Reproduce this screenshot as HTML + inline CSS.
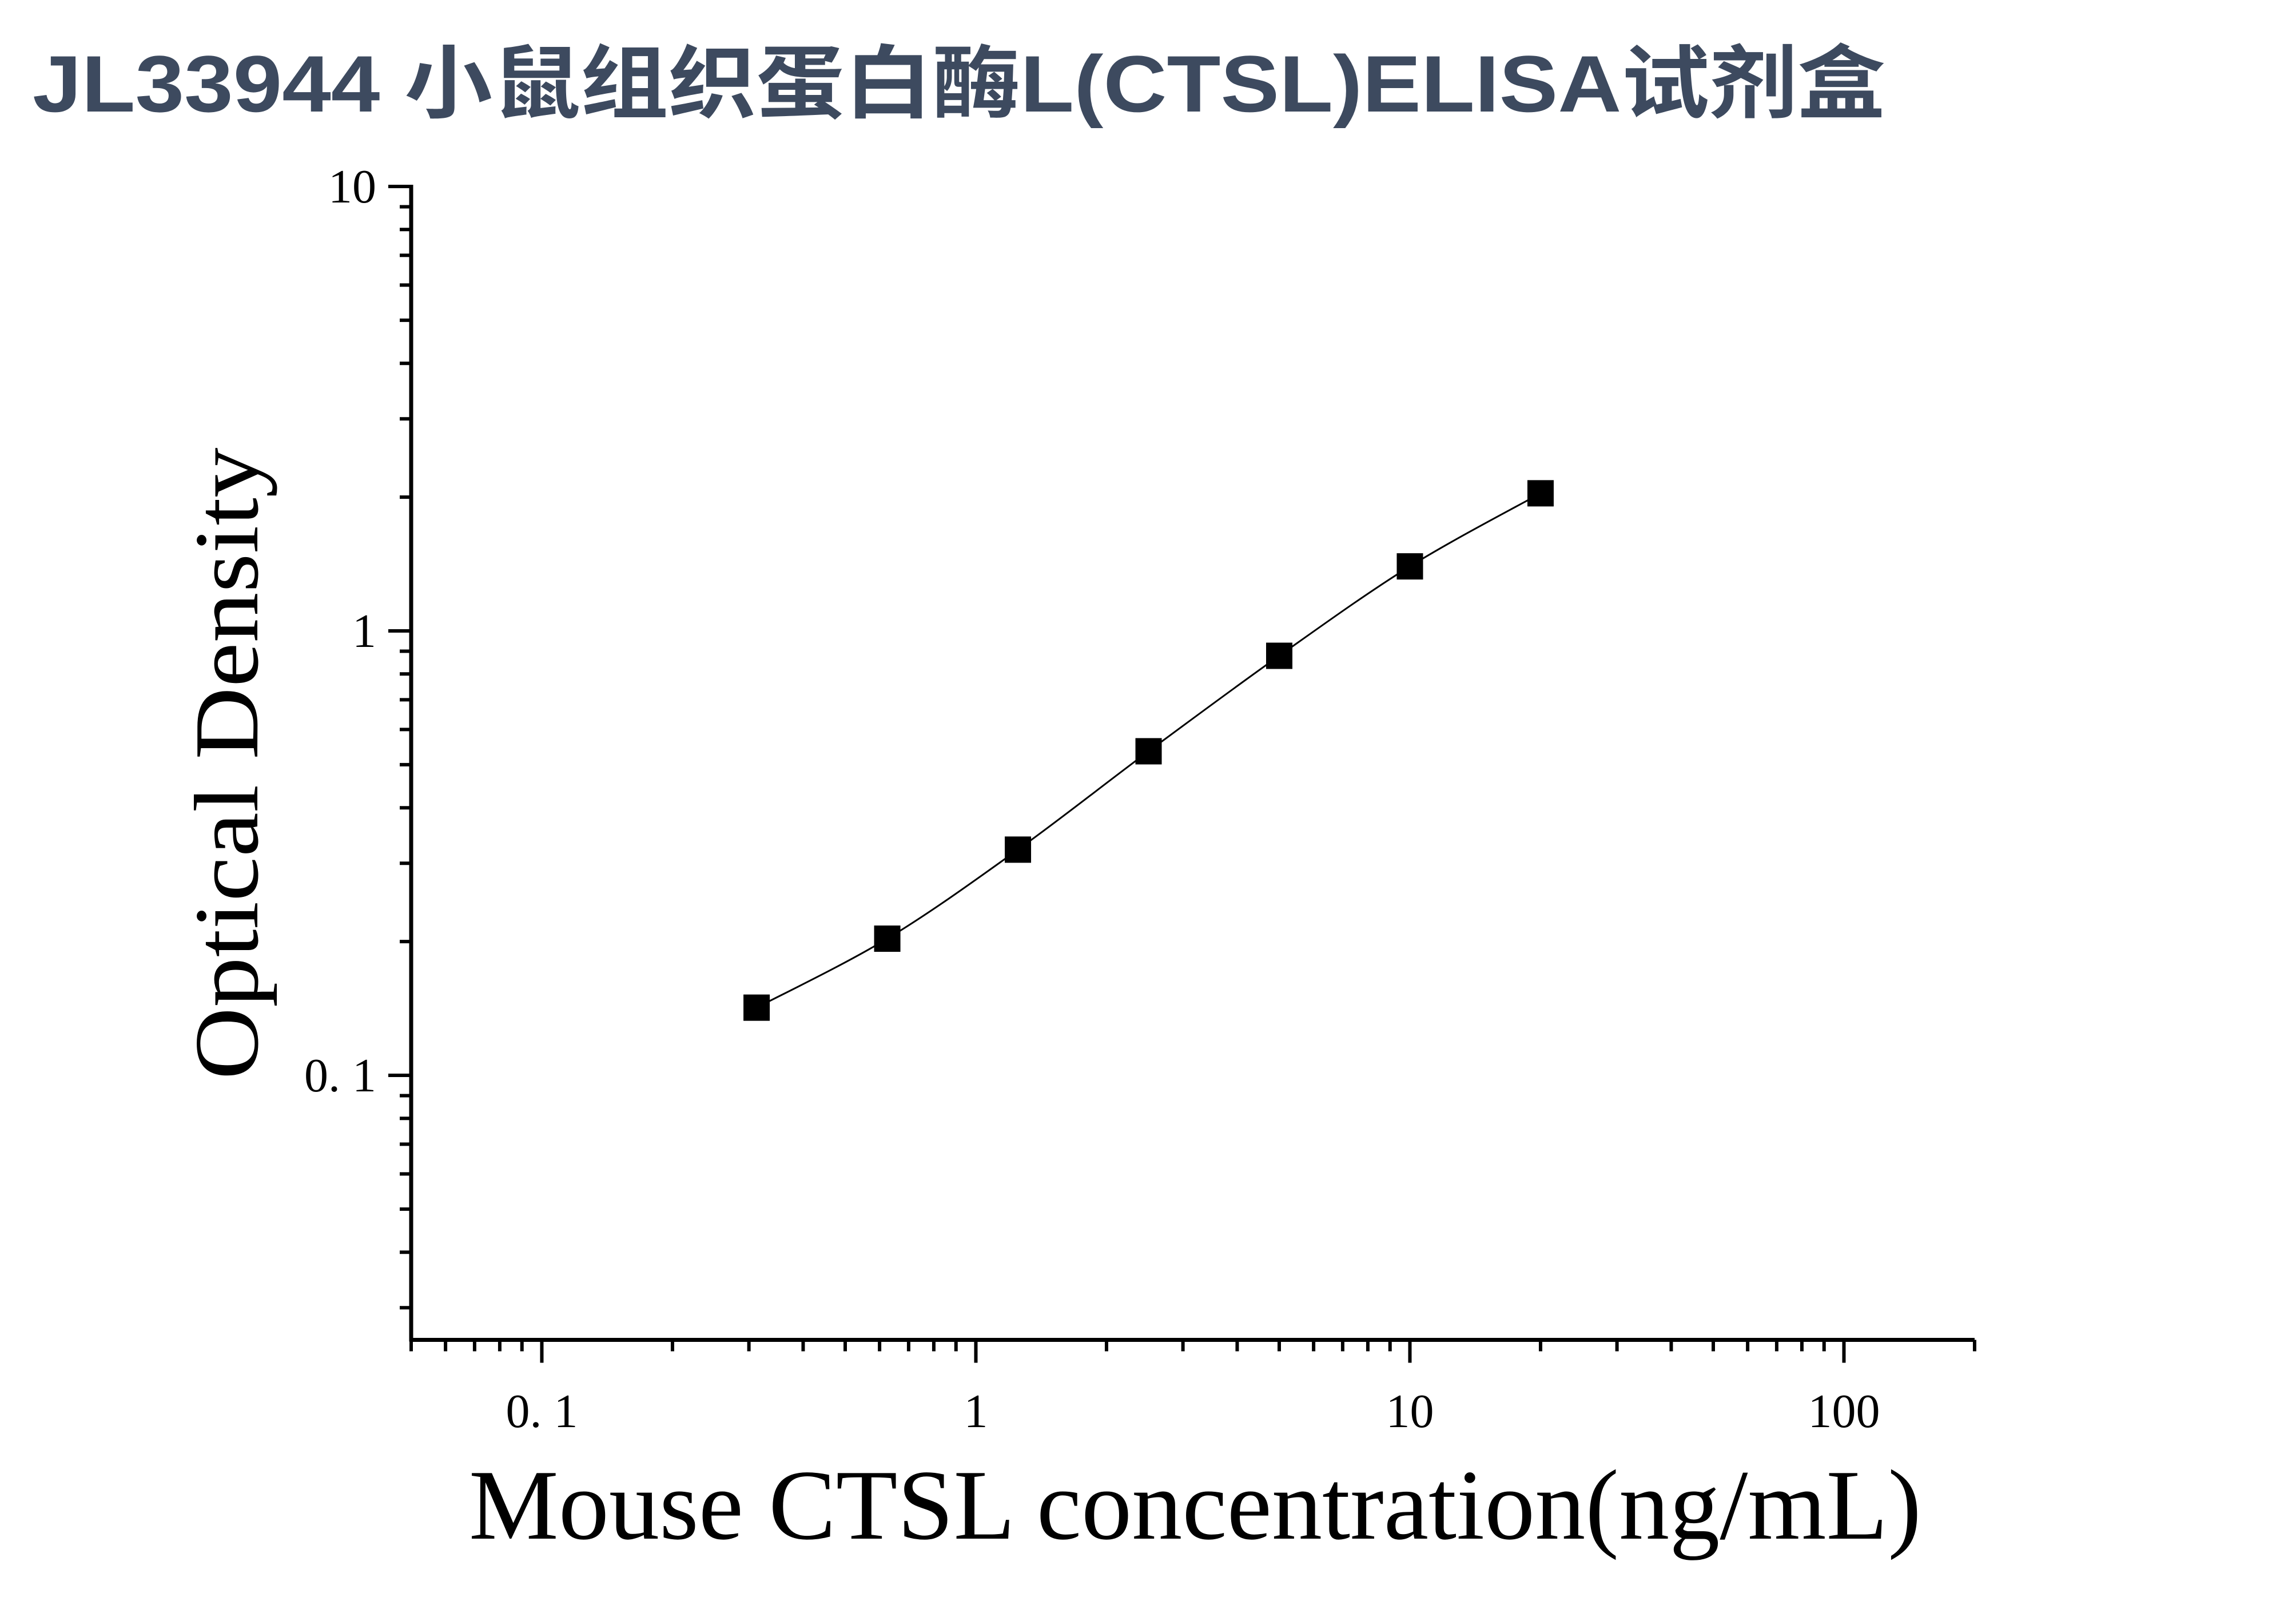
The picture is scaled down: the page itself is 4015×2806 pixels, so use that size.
<!DOCTYPE html>
<html><head><meta charset="utf-8"><style>
html,body{margin:0;padding:0;background:#fff;}
svg{display:block;}
</style></head><body>
<svg id="chart" width="4015" height="2806" viewBox="0 0 4015 2806" xmlns="http://www.w3.org/2000/svg">
<text x="57" y="195" font-family="'Liberation Sans','Noto Sans CJK SC',sans-serif" font-weight="bold" font-size="140" fill="#3d4a5f" textLength="3240" lengthAdjust="spacingAndGlyphs">JL33944 小鼠组织蛋白酶L(CTSL)ELISA试剂盒</text>
<g id="axes"></g>
<g id="marks"></g>
<text transform="translate(450,1335) rotate(-90)" text-anchor="middle" font-family="'Liberation Serif',serif" font-size="160" fill="#000" textLength="1105" lengthAdjust="spacingAndGlyphs">Optical Density</text>
<text x="2090" y="2690" text-anchor="middle" font-family="'Liberation Serif',serif" font-size="175" fill="#000" textLength="2540" lengthAdjust="spacingAndGlyphs">Mouse CTSL concentration(ng/mL)</text>
</svg>
<script>
const concentrations = [0.3125, 0.625, 1.25, 2.5, 5, 10, 20];
const odValues = [0.142, 0.203, 0.322, 0.536, 0.879, 1.397, 2.04];
const xTickValues = [0.1, 1, 10, 100];
const xTickLabels = ['0. 1', '1', '10', '100'];
const yTickValues = [0.1, 1, 10];
const yTickLabels = ['0. 1', '1', '10'];

const NS = 'http://www.w3.org/2000/svg';
const X0 = 719, XDEC = 759, XMIN = 0.05, XMAX = 200;
const Y10 = 326, YDEC = 777, YMIN = 0.0254;
function xs(v){ return X0 + (Math.log10(v) - Math.log10(XMIN)) * XDEC; }
function ys(v){ return Y10 + (1 - Math.log10(v)) * YDEC; }
const yBottom = ys(YMIN), xRight = xs(XMAX);
function mk(tag, attrs, parent){ const e = document.createElementNS(NS, tag); for (const k in attrs) e.setAttribute(k, attrs[k]); parent.appendChild(e); return e; }
const axesG = document.getElementById('axes');
const marksG = document.getElementById('marks');

const yAxis = mk('line', {x1: X0, y1: Y10 - 3, x2: X0, y2: yBottom + 3, stroke: '#000', 'stroke-width': 7}, axesG);


const xAxis = mk('line', {x1: X0 - 3, y1: yBottom, x2: xRight, y2: yBottom, stroke: '#000', 'stroke-width': 7}, axesG);



for (let dd = -2; dd <= 0; dd++) {
  for (let m = 1; m <= 9; m++) {
    const v = m * Math.pow(10, dd);
    if (v < YMIN || v > 10) continue;
    const major = m === 1;
    const t = mk('line', {x1: X0, y1: ys(v), x2: X0 - (major ? 40 : 20), y2: ys(v), stroke: '#000', 'stroke-width': 6}, axesG);
    
    
  }
}
const topTick = mk('line', {x1: X0, y1: ys(10), x2: X0 - 40, y2: ys(10), stroke: '#000', 'stroke-width': 6}, axesG);


yTickValues.forEach((v, i) => {
  const t = mk('text', {x: 658, y: ys(v) + 28, 'text-anchor': 'end', 'font-family': "'Liberation Serif',serif", 'font-size': 84, fill: '#000'}, axesG);
  t.textContent = yTickLabels[i];
  
  
});
for (let dd = -2; dd <= 2; dd++) {
  for (let m = 1; m <= 9; m++) {
    const v = m * Math.pow(10, dd);
    if (v < XMIN - 1e-9 || v > XMAX + 1e-9) continue;
    const major = m === 1;
    const t = mk('line', {x1: xs(v), y1: yBottom, x2: xs(v), y2: yBottom + (major ? 40 : 20), stroke: '#000', 'stroke-width': 6}, axesG);
    
    
  }
}
xTickValues.forEach((v, i) => {
  const t = mk('text', {x: xs(v), y: 2495, 'text-anchor': 'middle', 'font-family': "'Liberation Serif',serif", 'font-size': 84, fill: '#000'}, axesG);
  t.textContent = xTickLabels[i];
  
  
});

const pts = concentrations.map((c, i) => [xs(c), ys(odValues[i])]);
let pathD = 'M' + pts[0][0] + ',' + pts[0][1];
for (let i = 0; i < pts.length - 1; i++) {
  const p0 = pts[Math.max(0, i - 1)], p1 = pts[i], p2 = pts[i + 1], p3 = pts[Math.min(pts.length - 1, i + 2)];
  const c1 = [p1[0] + (p2[0] - p0[0]) / 6, p1[1] + (p2[1] - p0[1]) / 6];
  const c2 = [p2[0] - (p3[0] - p1[0]) / 6, p2[1] - (p3[1] - p1[1]) / 6];
  pathD += ' C' + c1.join(',') + ' ' + c2.join(',') + ' ' + p2.join(',');
}
const curve = mk('path', {d: pathD, fill: 'none', stroke: '#000', 'stroke-width': 3}, marksG);


pts.forEach(p => {
  const r = mk('rect', {x: p[0] - 23, y: p[1] - 23, width: 46, height: 46, fill: '#000'}, marksG);
  
  
});
</script>
</body></html>
